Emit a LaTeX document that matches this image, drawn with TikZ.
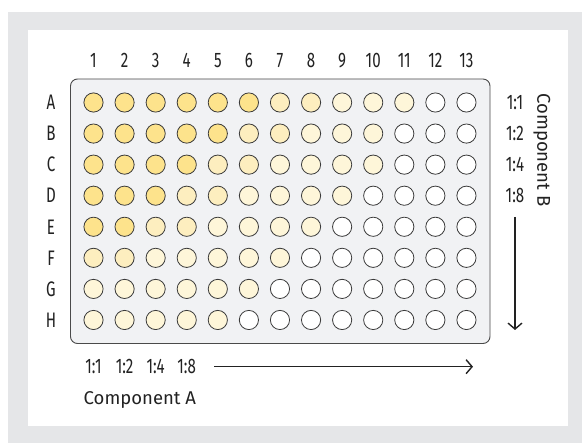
\documentclass[tikz,border=0pt]{standalone}
\usepackage{fontspec}
\setmainfont{Fira Sans}
\newfontfamily\labfont{Fira Sans}[FakeStretch=0.72]
\usetikzlibrary{arrows.meta}
\definecolor{framegray}{HTML}{E5E6E8}
\definecolor{plategray}{HTML}{F1F2F4}
\definecolor{plateedge}{HTML}{4A4A4A}
\definecolor{welledge}{HTML}{3A3A3A}
\definecolor{darkY}{HTML}{FDE38C}
\definecolor{medY}{HTML}{FDEEBF}
\definecolor{lightY}{HTML}{FEF6D9}
\definecolor{txt}{HTML}{222222}
\tikzset{
  plate/.style={draw=plateedge, fill=plategray, line width=0.9pt, rounded corners=7pt},
  well/.style={circle, draw=welledge, line width=0.8pt, minimum size=19.2pt, inner sep=0pt},
  lab/.style={font=\labfont\fontsize{21}{23}\selectfont, text=txt, inner sep=0pt},
  comp/.style={font=\fontsize{18.5}{20}\selectfont, text=txt, inner sep=0pt},
  dirarrow/.style={draw=txt, line width=1.4pt, -{Straight Barb[length=6pt,width=14pt,line width=1.4pt]}}
}
\begin{document}
\begin{tikzpicture}[x=1pt,y=-1pt]
\useasboundingbox (0,0) rectangle (582,443);
\fill[white] (0,0) rectangle (582,443);
\fill[framegray] (8,12) rectangle (582,443);
\fill[white] (28,30) rectangle (568,426);
\draw[plate] (70.5,79) rectangle (490,343.5);
\node[inner sep=0pt] (plate) at (280.25,211.25) {};
% column labels
\foreach \c in {1,...,13} {
  \node[lab] (col\c) at ({93.5+(\c-1)*31.08},60.7) {\c};
}
% rows
\foreach \r/\lab/\d/\m/\l in {1/A/6/2/3, 2/B/5/2/3, 3/C/4/2/4, 4/D/3/2/4, 5/E/2/2/4, 6/F/0/2/5, 7/G/0/0/6, 8/H/0/0/5} {
  \node[lab] (row\lab) at (51,{102.5+(\r-1)*31.07}) {\lab};
  \pgfmathtruncatemacro\dm{\d+\m}
  \pgfmathtruncatemacro\dml{\d+\m+\l}
  \foreach \c in {1,...,13} {
    \ifnum\c>\dml \def\wc{white}\else
      \ifnum\c>\dm \def\wc{lightY}\else
        \ifnum\c>\d \def\wc{medY}\else \def\wc{darkY}\fi
      \fi
    \fi
    \node[well, fill=\wc] (w-\lab-\c) at ({93.5+(\c-1)*31.08},{102.5+(\r-1)*31.07}) {};
  }
}
% right ratios
\node[lab] (rb1) at (515,102.5) {1:1};
\node[lab] (rb2) at (515,133.6) {1:2};
\node[lab] (rb3) at (515,164.6) {1:4};
\node[lab] (rb4) at (515,195.7) {1:8};
\node[comp, rotate=-90] (compB) at (542,150) {Component B};
\coordinate (bstart) at (515,217);
\coordinate (bend) at (515,330);
\draw[dirarrow] (bstart) -- (bend);
% bottom ratios
\node[lab] (ra1) at (93.5,366.7) {1:1};
\node[lab] (ra2) at (124.6,366.7) {1:2};
\node[lab] (ra3) at (155.7,366.7) {1:4};
\node[lab] (ra4) at (186.7,366.7) {1:8};
\coordinate (astart) at (214,366.7);
\coordinate (aend) at (473,366.7);
\draw[dirarrow] (astart) -- (aend);
\node[comp, anchor=base west] (compA) at (83.5,405) {Component A};
\end{tikzpicture}
\end{document}
